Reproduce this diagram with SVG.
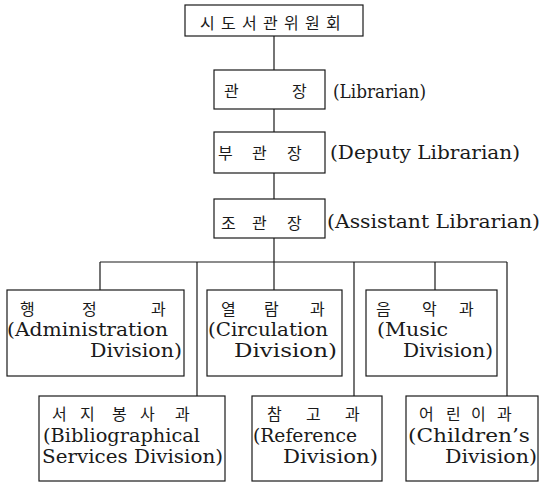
<svg xmlns="http://www.w3.org/2000/svg" width="542" height="483" viewBox="0 0 542 483">
<style>
.box{fill:none;stroke:#1a1a1a;stroke-width:1.2}
.ln{stroke:#1a1a1a;stroke-width:1.2;fill:none}
.ko{font-family:"Noto Sans CJK KR","Noto Sans",sans-serif;font-size:16px;fill:#1a1a1a}
.en{font-family:"DejaVu Serif","Liberation Serif",serif;font-size:18px;fill:#1a1a1a}
</style>
<rect width="542" height="483" fill="#fff"/>
<g id="connectors">
<path class="ln" d="M274 36V70M274 109V132M274 173V199M274 238V262M100 262H507M100 262V290M274 262V290M435 262V290M197 262V396M354 262V396M507 262V396"/>
</g>
<g id="committee">
<rect class="box" x="185" y="5" width="178" height="31"/>
<text class="ko" x="200 221 242 263 284 305 326" y="29" font-size="17">시도서관위원회</text>
</g>
<g id="librarian">
<rect class="box" x="214" y="70" width="111" height="39"/>
<text class="ko" x="224 292" y="97" font-size="17">관장</text>
<text class="en" x="333" y="98" textLength="93" lengthAdjust="spacingAndGlyphs">(Librarian)</text>
</g>
<g id="deputy">
<rect class="box" x="214" y="132" width="111" height="41"/>
<text class="ko" x="218 252 287" y="159" font-size="17">부관장</text>
<text class="en" x="330" y="159" textLength="190" lengthAdjust="spacingAndGlyphs">(Deputy Librarian)</text>
</g>
<g id="assistant">
<rect class="box" x="214" y="199" width="111" height="39"/>
<text class="ko" x="221 252 287" y="229" font-size="17">조관장</text>
<text class="en" x="327" y="228" textLength="213" lengthAdjust="spacingAndGlyphs">(Assistant Librarian)</text>
</g>
<g id="admin">
<rect class="box" x="7" y="290" width="177" height="86"/>
<text class="ko" x="20 82 151" y="315">행정과</text>
<text class="en" x="7" y="336" textLength="161" lengthAdjust="spacingAndGlyphs">(Administration</text>
<text class="en" x="90" y="357" textLength="92" lengthAdjust="spacingAndGlyphs">Division)</text>
</g>
<g id="circulation">
<rect class="box" x="207" y="290" width="135" height="86"/>
<text class="ko" x="221 264 310" y="315">열람과</text>
<text class="en" x="208" y="336" textLength="120" lengthAdjust="spacingAndGlyphs">(Circulation</text>
<text class="en" x="234" y="357" textLength="103" lengthAdjust="spacingAndGlyphs">Division)</text>
</g>
<g id="music">
<rect class="box" x="366" y="290" width="131" height="86"/>
<text class="ko" x="376 422 459" y="315">음악과</text>
<text class="en" x="377" y="336" textLength="71" lengthAdjust="spacingAndGlyphs">(Music</text>
<text class="en" x="403" y="357" textLength="90" lengthAdjust="spacingAndGlyphs">Division)</text>
</g>
<g id="bibliographical">
<rect class="box" x="39" y="396" width="186" height="85"/>
<text class="ko" x="52 80 112 140 175" y="420">서지봉사과</text>
<text class="en" x="43" y="442" textLength="157" lengthAdjust="spacingAndGlyphs">(Bibliographical</text>
<text class="en" x="42" y="463" textLength="181" lengthAdjust="spacingAndGlyphs">Services Division)</text>
</g>
<g id="reference">
<rect class="box" x="252" y="396" width="130" height="85"/>
<text class="ko" x="267 306 345" y="420">참고과</text>
<text class="en" x="253" y="442" textLength="104" lengthAdjust="spacingAndGlyphs">(Reference</text>
<text class="en" x="283" y="463" textLength="95" lengthAdjust="spacingAndGlyphs">Division)</text>
</g>
<g id="children">
<rect class="box" x="406" y="396" width="132" height="85"/>
<text class="ko" x="419 446 471 497" y="420">어린이과</text>
<text class="en" x="408" y="442" textLength="122" lengthAdjust="spacingAndGlyphs">(Children’s</text>
<text class="en" x="445" y="463" textLength="92" lengthAdjust="spacingAndGlyphs">Division)</text>
</g>
</svg>
